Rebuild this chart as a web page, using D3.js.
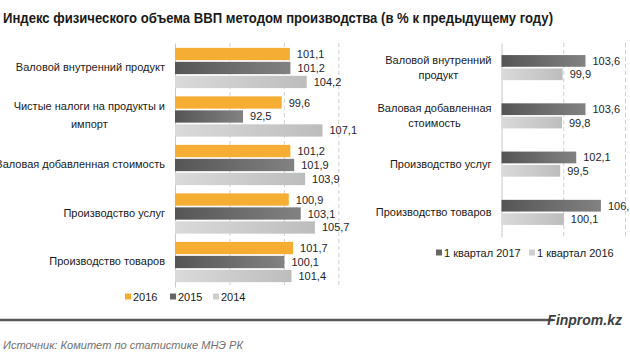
<!DOCTYPE html>
<html>
<head>
<meta charset="utf-8">
<script src="https://cdn.jsdelivr.net/npm/d3@7"></script>
<style>
  body { margin: 0; background: #fff; }
  svg { display: block; font-family: "Liberation Sans", Arial, sans-serif; }
</style>
</head>
<body>
<svg id="chart" width="630" height="353"></svg>
<script>
// left chart: annual indices
const leftCats = ["Валовой внутренний продукт", "Чистые налоги на продукты и импорт",
  "Валовая добавленная стоимость", "Производство услуг", "Производство товаров"];
const leftSeries = ["2016", "2015", "2014"];
const vals2016 = [101.1, 99.6, 101.2, 100.9, 101.7];
const vals2015 = [101.2, 92.5, 101.9, 103.1, 100.1];
const vals2014 = [104.2, 107.1, 103.9, 105.7, 101.4];
const leftTicks = [80, 90, 100, 110];

// right chart: first quarter
const rightCats = ["Валовой внутренний продукт", "Валовая добавленная стоимость",
  "Производство услуг", "Производство товаров"];
const rightSeries = ["1 квартал 2017", "1 квартал 2016"];
const valsQ2017 = [103.6, 103.6, 102.1, 106.1];
const valsQ2016 = [99.9, 99.8, 99.5, 100.1];
const rightTicks = [90, 100, 110];

const svg = d3.select("#chart");
const defs = svg.append("defs");

// gradients for the grey bars
function grad(id, c1, c2) {
  const g = defs.append("linearGradient").attr("id", id)
    .attr("x1", 0).attr("x2", 1).attr("y1", 0).attr("y2", 0);
  g.append("stop").attr("offset", "0%").attr("stop-color", c1);
  g.append("stop").attr("offset", "100%").attr("stop-color", c2);
}
grad("gDark", "#555555", "#828282");
grad("gLight", "#dadada", "#bdbdbd");
const fills = {"2016": "#F5AE33", "2015": "url(#gDark)", "2014": "url(#gLight)",
  "1 квартал 2017": "url(#gDark)", "1 квартал 2016": "url(#gLight)"};
const legendFills = {"2016": "#F5AE33", "2015": "#666666", "2014": "#cfcfcf",
  "1 квартал 2017": "#666666", "1 квартал 2016": "#cfcfcf"};

const fmt = v => d3.format(".1f")(v).replace(".", ",");

// title (condensed to the reference width)
svg.append("text")
  .attr("x", 3).attr("y", 23)
  .attr("textLength", 550).attr("lengthAdjust", "spacingAndGlyphs")
  .style("font-weight", "bold").style("font-size", "14.5px").style("fill", "#1a1a1a")
  .text("Индекс физического объема ВВП методом производства (в % к предыдущему году)");

// wrap words into lines no wider than maxW
function wrapLines(label, maxW) {
  const tmp = svg.append("text").style("font-size", "11px");
  const words = label.split(" ");
  const lines = [];
  let cur = "";
  words.forEach(w => {
    const test = cur ? cur + " " + w : w;
    tmp.text(test);
    if (tmp.node().getComputedTextLength() > maxW && cur) {
      lines.push(cur);
      cur = w;
    } else cur = test;
  });
  lines.push(cur);
  let widest = 0;
  lines.forEach(l => { tmp.text(l); widest = Math.max(widest, tmp.node().getComputedTextLength()); });
  tmp.remove();
  return {lines, widest};
}

function drawChart(o) {
  const g = svg.append("g");
  const x = d3.scaleLinear().domain(o.domain).range([o.x0, o.x1]);
  const y = d3.scaleBand().domain(o.cats).range([o.y0, o.y1])
    .paddingInner(o.padIn).paddingOuter(o.padOut);
  const ys = d3.scaleBand().domain(o.series).range([0, y.bandwidth()]).paddingInner(o.subPad);

  // dashed gridlines
  const grid = g.append("g").attr("transform", `translate(0,${o.y0})`)
    .call(d3.axisBottom(x).tickValues(o.ticks.slice(1)).tickSize(o.y1 - o.y0).tickFormat(""));
  grid.select(".domain").remove();
  grid.selectAll("line").attr("stroke", "#d0d0d0").attr("stroke-dasharray", "4,3");

  // category axis line
  const ax = g.append("g").attr("transform", `translate(${o.x0},0)`)
    .call(d3.axisLeft(y).tickSize(0).tickFormat(""));
  ax.select(".domain").attr("stroke", "#c8c8c8").attr("stroke-width", 1);

  // bars + value labels
  o.series.forEach((s, si) => {
    const vals = o.values[si];
    g.selectAll(null).data(vals).enter().append("rect")
      .attr("x", x(o.domain[0]))
      .attr("y", (d, i) => y(o.cats[i]) + ys(s))
      .attr("width", d => x(d) - x(o.domain[0]))
      .attr("height", ys.bandwidth())
      .attr("fill", fills[s]);
    g.selectAll(null).data(vals).enter().append("text")
      .attr("x", d => x(d) + 7)
      .attr("y", (d, i) => y(o.cats[i]) + ys(s) + ys.bandwidth() / 2 + 4)
      .style("font-size", "11px").style("fill", "#1e1e2a")
      .text(fmt);
  });

  // category labels, right-aligned block with centered lines
  o.cats.forEach(c => {
    const w = wrapLines(c, o.wrapW);
    const cx = o.x0 - 10 - w.widest / 2;
    const cy = y(c) + y.bandwidth() / 2 + o.labShift;
    const n = w.lines.length;
    const t = g.append("text").attr("text-anchor", "middle")
      .style("font-size", "11px").style("fill", "#1a1a1a");
    w.lines.forEach((l, li) => {
      t.append("tspan").attr("x", cx)
        .attr("y", cy + (li - (n - 1) / 2) * o.lineH + 4)
        .text(l);
    });
  });

  // legend
  const lg = g.append("g");
  o.series.forEach((s, si) => {
    lg.append("rect").attr("x", o.legX[si]).attr("y", o.legY - 3.5)
      .attr("width", 6).attr("height", 6).attr("fill", legendFills[s]);
    lg.append("text").attr("x", o.legX[si] + 8).attr("y", o.legY + 4)
      .style("font-size", "11px").style("fill", "#1a1a1a").text(s);
  });
}

drawChart({
  cats: leftCats, series: leftSeries, values: [vals2016, vals2015, vals2014],
  domain: [80, 110], ticks: leftTicks, x0: 175, x1: 338.3, y0: 43, y1: 287,
  padIn: 0.17, padOut: 0.1, subPad: 0.12, wrapW: 172, lineH: 18, labShift: -1,
  legX: [125, 170, 213], legY: 297
});

// right chart sits over the left one with a white backdrop
svg.append("rect").attr("x", 362).attr("y", 40).attr("width", 268).attr("height", 230).attr("fill", "#fff");

drawChart({
  cats: rightCats, series: rightSeries, values: [valsQ2017, valsQ2016],
  domain: [90, 110], ticks: rightTicks, x0: 501.5, x1: 625, y0: 43, y1: 237,
  padIn: 0.48, padOut: 0.25, subPad: 0.12, wrapW: 125, lineH: 15, labShift: 0,
  legX: [436, 529], legY: 253
});

// footer
svg.append("line").attr("x1", 0).attr("x2", 553).attr("y1", 320).attr("y2", 320)
  .attr("stroke", "#595959").attr("stroke-width", 2.5);
svg.append("text").attr("x", 622).attr("y", 325).attr("text-anchor", "end")
  .style("font-weight", "bold").style("font-style", "italic").style("font-size", "14px")
  .style("fill", "#404040").text("Finprom.kz");
svg.append("text").attr("x", 3).attr("y", 349)
  .attr("textLength", 240).attr("lengthAdjust", "spacingAndGlyphs")
  .style("font-style", "italic").style("font-size", "11.5px").style("fill", "#707070")
  .text("Источник:  Комитет по статистике МНЭ РК");
</script>
</body>
</html>
